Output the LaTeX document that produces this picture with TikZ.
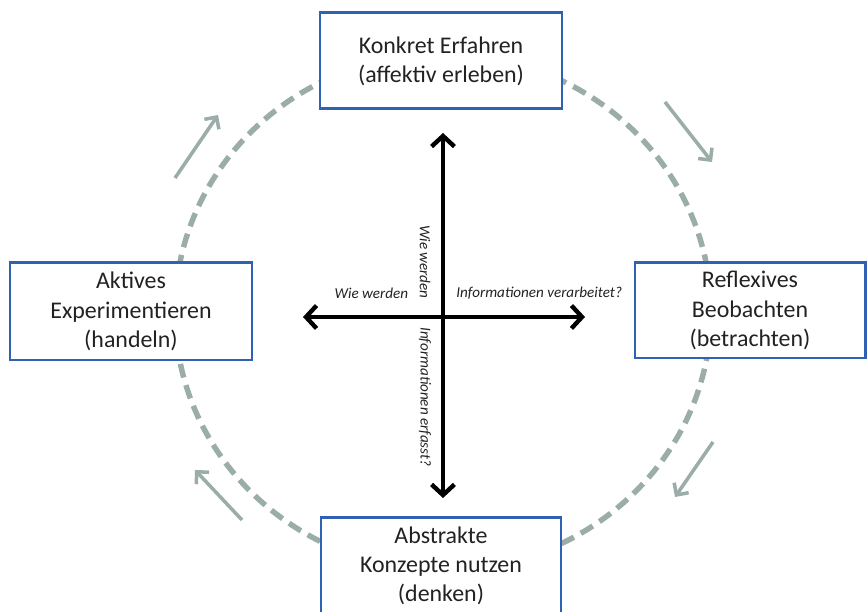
\documentclass[tikz,border=0pt]{standalone}
\usepackage{fontspec}
\setmainfont{Carlito}
\usepackage{xcolor}
\usepackage{tikz}
\usetikzlibrary{arrows.meta,positioning}
\definecolor{KLBlue}   {HTML}{2F62B5}
\definecolor{KLGray}   {HTML}{9AADA9}
\definecolor{KLText}   {HTML}{222222}
\definecolor{KLBlack}  {HTML}{000000}
\tikzset{
  phase/.style={draw=KLBlue,line width=1.7pt,fill=white,align=center,
    inner sep=0pt,text=KLText,font=\fontsize{13.6}{16.6}\selectfont},
  axis/.style={draw=KLBlack,line width=2.5pt,
    {Straight Barb[length=6pt,width=13pt]}-{Straight Barb[length=6pt,width=13pt]}},
  axislabel/.style={font=\fontsize{8.6}{10}\selectfont\itshape,text=KLText,inner sep=0pt},
  cycle/.style={draw=KLGray,line width=3.1pt,dash pattern=on 8pt off 4.5pt},
  turn/.style={draw=KLGray,line width=2pt,-{Straight Barb[length=5pt,width=10pt]}}
}

\begin{document}
\begin{tikzpicture}
  \path[use as bounding box,clip] (0,0) rectangle (17.34,12.24);

  % Cycle
  \draw[cycle] (8.86,6.0) ellipse [x radius=5.36cm,y radius=5.16cm];

  % Direction arrows
  \coordinate (tlA) at (3.5,8.68);   \coordinate (tlB) at (4.36,9.94);
  \coordinate (trA) at (13.3,10.2);  \coordinate (trB) at (14.24,9.0);
  \coordinate (brA) at (14.26,3.4);  \coordinate (brB) at (13.5,2.3);
  \coordinate (blA) at (4.84,1.84);  \coordinate (blB) at (3.9,2.84);
  \draw[turn] (tlA) -- (tlB);
  \draw[turn] (trA) -- (trB);
  \draw[turn] (brA) -- (brB);
  \draw[turn] (blA) -- (blB);

  % Phases
  \node[phase,minimum width=4.84cm,minimum height=1.92cm] (konkret)
    at (8.82,11.02) {Konkret Erfahren\\(affektiv erleben)};
  \node[phase,minimum width=4.84cm,minimum height=1.94cm] (aktiv)
    at (2.62,6.01) {Aktives\\Experimentieren\\(handeln)};
  \node[phase,minimum width=4.6cm,minimum height=1.9cm] (reflex)
    at (15.0,6.03) {Reflexives\\Beobachten\\(betrachten)};
  \node[phase,minimum width=4.8cm,minimum height=1.94cm] (abstrakt)
    at (8.82,0.92) {Abstrakte\\Konzepte nutzen\\(denken)};

  % Axes
  \coordinate (axT) at (8.86,9.58);
  \coordinate (axB) at (8.86,2.28);
  \coordinate (axL) at (6.06,5.9);
  \coordinate (axR) at (11.7,5.9);
  \draw[axis] (axB) -- (axT);
  \draw[axis] (axL) -- (axR);

  % Axis labels
  \node[axislabel,anchor=east] (wieH) at (8.17,6.38) {Wie werden};
  \node[axislabel,anchor=west] (infoH) at (9.12,6.38) {Informationen verarbeitet?};
  \node[axislabel,rotate=-90,anchor=east] (wieV) at (8.5,6.26) {Wie werden};
  \node[axislabel,rotate=-90,anchor=west] (infoV) at (8.5,5.7) {Informationen erfasst?};
\end{tikzpicture}
\end{document}
